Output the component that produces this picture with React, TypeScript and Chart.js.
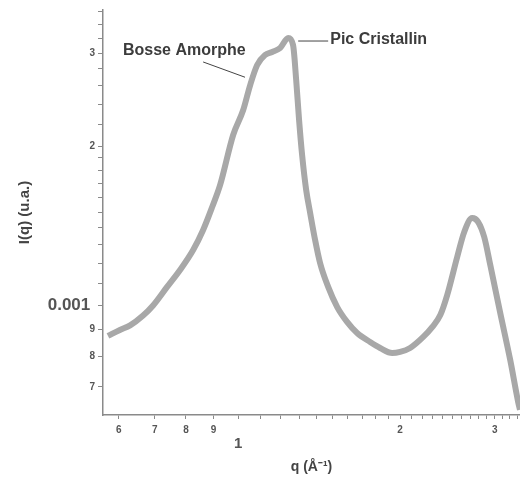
import React, { useEffect, useRef } from "react";
import { Chart, registerables } from "chart.js";

Chart.register(...registerables);

// q (Å^-1)
const qValues = [
  0.573, 0.603, 0.630, 0.666, 0.695, 0.738, 0.780, 0.825, 0.861, 0.895, 0.926,
  0.979, 1.022, 1.053, 1.085, 1.122, 1.157, 1.197, 1.239, 1.265, 1.282, 1.298,
  1.315, 1.338, 1.361, 1.390, 1.420, 1.470, 1.528, 1.594, 1.664, 1.759, 1.836,
  1.933, 2.0, 2.087, 2.208, 2.294, 2.375, 2.446, 2.553, 2.631, 2.722, 2.793,
  2.866, 2.941, 3.069, 3.203, 3.314, 3.34,
];
// I(q) (u.a.)
const intensity = [
  0.000874, 0.000897, 0.000915, 0.000955, 0.000998, 0.001082, 0.001165, 0.001271,
  0.001387, 0.001533, 0.001688, 0.002099, 0.00234, 0.00261, 0.002848, 0.002975,
  0.003015, 0.003067, 0.003204, 0.003108, 0.002668, 0.002241, 0.001923, 0.001651,
  0.001494, 0.001328, 0.001201, 0.001082, 0.000991, 0.000929, 0.000885, 0.000851,
  0.000829, 0.000811, 0.000815, 0.000829, 0.00087, 0.000908, 0.000957, 0.001044,
  0.001233, 0.001375, 0.001461, 0.001436, 0.001345, 0.001191, 0.000966, 0.000787,
  0.000655, 0.000633,
];

const X_MIN = 0.561;
const X_MAX = 3.34;
const Y_MIN = 0.000619;
const Y_MAX = 0.00362;

const xTickValues = [
  0.6, 0.7, 0.8, 0.9, 1, 1.1, 1.2, 1.3, 1.4, 1.5, 1.6, 1.7, 1.8, 1.9, 2, 2.1, 2.2,
  2.3, 2.4, 2.5, 2.6, 2.7, 2.8, 2.9, 3, 3.1, 3.2, 3.3,
];
const xTickLabels: Record<string, string> = {
  "0.6": "6", "0.7": "7", "0.8": "8", "0.9": "9", "1": "1", "2": "2", "3": "3",
};
const yTickValues = [
  0.0007, 0.0008, 0.0009, 0.001, 0.0011, 0.0012, 0.0013, 0.0014, 0.0015, 0.0016,
  0.0017, 0.0018, 0.0019, 0.002, 0.0022, 0.0024, 0.0026, 0.0028, 0.003, 0.0032,
  0.0034, 0.0036,
];
const yTickLabels: Record<string, string> = {
  "0.0007": "7", "0.0008": "8", "0.0009": "9", "0.001": "0.001 ", "0.002": "2", "0.003": "3",
};

const annotations = [
  { text: "Bosse Amorphe", q: 0.611, i: 0.002975, lineFrom: [0.861, 0.002886], lineTo: [1.03, 0.0027] },
  { text: "Pic Cristallin", q: 1.483, i: 0.003122, lineFrom: [1.293, 0.003162], lineTo: [1.47, 0.003162] },
];

const FONT = "'Liberation Sans', Arial, sans-serif";

const key = (v: number) => String(Number(v.toPrecision(6)));

const annotationPlugin = {
  id: "annots",
  afterDraw(chart: any) {
    const { ctx, scales } = chart;
    const x = scales.x;
    const y = scales.y;
    ctx.save();
    ctx.font = `bold 16px ${FONT}`;
    ctx.fillStyle = "#3c3c3c";
    ctx.strokeStyle = "#444";
    ctx.lineWidth = 1;
    ctx.textBaseline = "alphabetic";
    ctx.textAlign = "left";
    for (const a of annotations) {
      ctx.fillText(a.text, x.getPixelForValue(a.q), y.getPixelForValue(a.i));
      ctx.beginPath();
      ctx.moveTo(x.getPixelForValue(a.lineFrom[0]), y.getPixelForValue(a.lineFrom[1]));
      ctx.lineTo(x.getPixelForValue(a.lineTo[0]), y.getPixelForValue(a.lineTo[1]));
      ctx.stroke();
    }
    ctx.restore();
  },
};

export default function App() {
  const ref = useRef<HTMLCanvasElement | null>(null);
  useEffect(() => {
    if (!ref.current) return;
    const chart = new Chart(ref.current, {
      type: "line",
      data: {
        datasets: [
          {
            data: qValues.map((q, k) => ({ x: q, y: intensity[k] })),
            borderColor: "#a8a8a8",
            borderWidth: 6,
            pointRadius: 0,
            cubicInterpolationMode: "monotone",
            fill: false,
          },
        ],
      },
      options: {
        responsive: false,
        animation: false,
        layout: { padding: { top: 10, right: 0, left: 0, bottom: 0 } },
        plugins: { legend: { display: false }, tooltip: { enabled: false } },
        scales: {
          x: {
            type: "logarithmic",
            min: X_MIN,
            max: X_MAX,
            bounds: "data",
            afterFit: (s: any) => {
              s.height = 63;
              s.paddingLeft = 0;
              s.paddingRight = 0;
            },
            afterBuildTicks: (s: any) => {
              s.ticks = xTickValues.map((v) => ({ value: v }));
              s.min = X_MIN;
              s.max = X_MAX;
            },
            border: { display: true, color: "#8a8a8a", width: 1.5 },
            grid: { drawOnChartArea: false, drawTicks: true, tickLength: 4, color: "#8a8a8a" },
            ticks: {
              autoSkip: false,
              maxRotation: 0,
              minRotation: 0,
              padding: 5,
              color: "#555",
              callback: (v: any) => {
                const l = xTickLabels[key(Number(v))] ?? "";
                return l === "1" ? ["", "1"] : l;
              },
              font: (c: any) =>
                c.tick && Math.abs(c.tick.value - 1) < 1e-9
                  ? { family: FONT, size: 15, weight: "bold", lineHeight: 0.9 }
                  : { family: FONT, size: 10, weight: "bold" },
            },
            title: {
              display: true,
              text: "q (Å⁻¹)",
              color: "#444",
              font: { family: FONT, size: 14, weight: "bold" },
              padding: { top: 0, bottom: 2 },
            },
          },
          y: {
            type: "logarithmic",
            min: Y_MIN,
            max: Y_MAX,
            bounds: "data",
            afterFit: (s: any) => {
              s.width = 103;
            },
            afterBuildTicks: (s: any) => {
              s.ticks = yTickValues.map((v) => ({ value: v }));
              s.min = Y_MIN;
              s.max = Y_MAX;
            },
            border: { display: true, color: "#8a8a8a", width: 1.5 },
            grid: { drawOnChartArea: false, drawTicks: true, tickLength: 5, color: "#8a8a8a" },
            ticks: {
              autoSkip: false,
              padding: 3,
              color: "#555",
              callback: (v: any) => yTickLabels[key(Number(v))] ?? "",
              font: (c: any) =>
                c.tick && Math.abs(c.tick.value - 0.001) < 1e-12
                  ? { family: FONT, size: 17, weight: "bold" }
                  : { family: FONT, size: 10, weight: "bold" },
            },
            title: {
              display: true,
              text: "I(q) (u.a.)",
              color: "#444",
              font: { family: FONT, size: 15, weight: "bold" },
              padding: { top: 16, bottom: 0 },
            },
          },
        },
      },
      plugins: [annotationPlugin],
    });
    return () => chart.destroy();
  }, []);
  return (
    <div style={{ position: "absolute", left: 0, top: 0, width: 520, height: 478, background: "#fff" }}>
      <canvas ref={ref} width={520} height={478} style={{ display: "block" }} />
    </div>
  );
}
